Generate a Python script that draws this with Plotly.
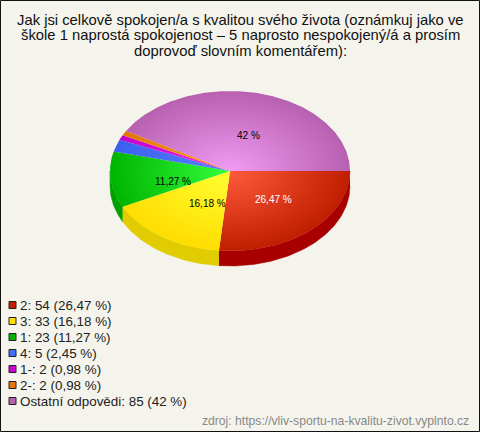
import math
import plotly.graph_objects as go

title_lines = ["Jak jsi celkově spokojen/a s kvalitou svého života (oznámkuj jako ve",
               "škole 1 naprostá spokojenost – 5 naprosto nespokojený/á a prosím",
               "doprovoď slovním komentářem):"]
categories = ["2", "3", "1", "4", "1-", "2-", "Ostatní odpovědi"]
values = [54, 33, 23, 5, 2, 2, 85]
percent_text = ["26,47 %", "16,18 %", "11,27 %", "2,45 %", "0,98 %", "0,98 %", "42 %"]
source_text = "zdroj: https://vliv-sportu-na-kvalitu-zivot.vyplnto.cz"

inner_colors = ["#ff5a3c", "#ffff33", "#33ff3c", "#5a80ff", "#f02cf0", "#ff9a20", "#f09cf4"]
outer_colors = ["#c01e00", "#ffdd00", "#00b400", "#3a60f0", "#c000c8", "#e07800", "#b860b0"]
side_colors = ["#a80000", "#e0cc00", "#00a000", "#2040c0", "#9000a0", "#b06000", "#904890"]
legend_colors = ["#c41e00", "#ffe000", "#00b400", "#4070ff", "#c800d0", "#e87800", "#b860b0"]
label_colors = ["white", "black", "black", None, None, None, "black"]
label_offsets = [(3, -1.5), (11, -1), (3, 6), (0, 0), (0, 0), (0, 0), (2.5, 3)]

BG = "#f5f4ec"
CX, CY, RX, RY, DEPTH = 230, 171, 120, 80, 15
FONT = "Liberation Sans"
total = sum(values)


def pt(deg, dy=0, r=1.0):
    a = math.radians(deg)
    return CX + RX * r * math.cos(a), CY + RY * r * math.sin(a) + dy


def arc(a0, a1, dy=0):
    n = max(2, int(abs(a1 - a0) * 1.5) + 2)
    return [pt(a0 + (a1 - a0) * i / (n - 1), dy) for i in range(n)]


fig = go.Figure()
bounds = []
acc = 0.0
for v in values:
    bounds.append((acc, acc + v / total * 360))
    acc += v / total * 360

# side wall
for (a0, a1), col in zip(bounds, side_colors):
    lo, hi = max(a0, 0), min(a1, 180)
    if hi <= lo:
        continue
    top = arc(lo, hi)
    bot = arc(hi, lo, DEPTH)
    pts = top + bot
    fig.add_trace(go.Scatter(x=[p[0] for p in pts], y=[p[1] for p in pts], mode="lines",
                             fill="toself", fillcolor=col, line=dict(width=0.5, color=col),
                             hoverinfo="skip", showlegend=False))

# top face: zero-area spikes stretch each slice's box to the full ellipse
for (a0, a1), c0, c1 in zip(bounds, inner_colors, outer_colors):
    pts = [(CX, CY)] + arc(a0, a1) + [(CX, CY)]
    for q in [(CX - RX, CY - RY), (CX + RX, CY + RY)]:
        pts += [q, (CX, CY)]
    fig.add_trace(go.Scatter(x=[p[0] for p in pts], y=[p[1] for p in pts], mode="lines",
                             fill="toself", line=dict(width=0),
                             fillgradient=dict(type="radial", colorscale=[[0, c0], [1, c1]]),
                             hoverinfo="skip", showlegend=False))

annotations = []


def text(x, y, s, size, color="black", anchor="left"):
    annotations.append(dict(x=x, y=y, xref="x", yref="y", text=s, showarrow=False,
                            xanchor=anchor, yanchor="middle",
                            font=dict(family=FONT, size=size, color=color)))


for i, (b, p, col) in enumerate(zip(bounds, percent_text, label_colors)):
    if col is None:
        continue
    x, y = pt((b[0] + b[1]) / 2, r=0.5)
    text(x + label_offsets[i][0], y + label_offsets[i][1], p, 10, col, "center")

for i, line in enumerate(title_lines):
    text(240, 19.5 + i * 15.5, line, 14.8, "#111111", "center")

legend_y = [305 + i * 16 for i in range(len(categories))]
fig.add_trace(go.Scatter(x=[12.5] * len(categories), y=legend_y, mode="markers",
                         marker=dict(symbol="square", size=7, color=legend_colors,
                                     line=dict(color="#222222", width=1)),
                         hoverinfo="skip", showlegend=False))
for c, v, p, y in zip(categories, values, percent_text, legend_y):
    text(18, y, f"{c}: {v} ({p})", 13.4, "#222222")

text(471, 421, source_text, 12.15, "#888888", "right")

fig.update_layout(
    width=480, height=432, margin=dict(l=0, r=0, t=0, b=0),
    paper_bgcolor=BG, plot_bgcolor=BG, showlegend=False,
    annotations=annotations,
    xaxis=dict(range=[0, 480], visible=False, fixedrange=True),
    yaxis=dict(range=[432, 0], visible=False, fixedrange=True),
    shapes=[dict(type="rect", xref="x", yref="y", x0=0.5, y0=0.5, x1=479.5, y1=431.5,
                 line=dict(color="#111111", width=1))],
)
fig.write_html("out.html", config=dict(displayModeBar=False),
               post_script="document.body.style.margin='0';document.body.style.overflow='hidden';")
